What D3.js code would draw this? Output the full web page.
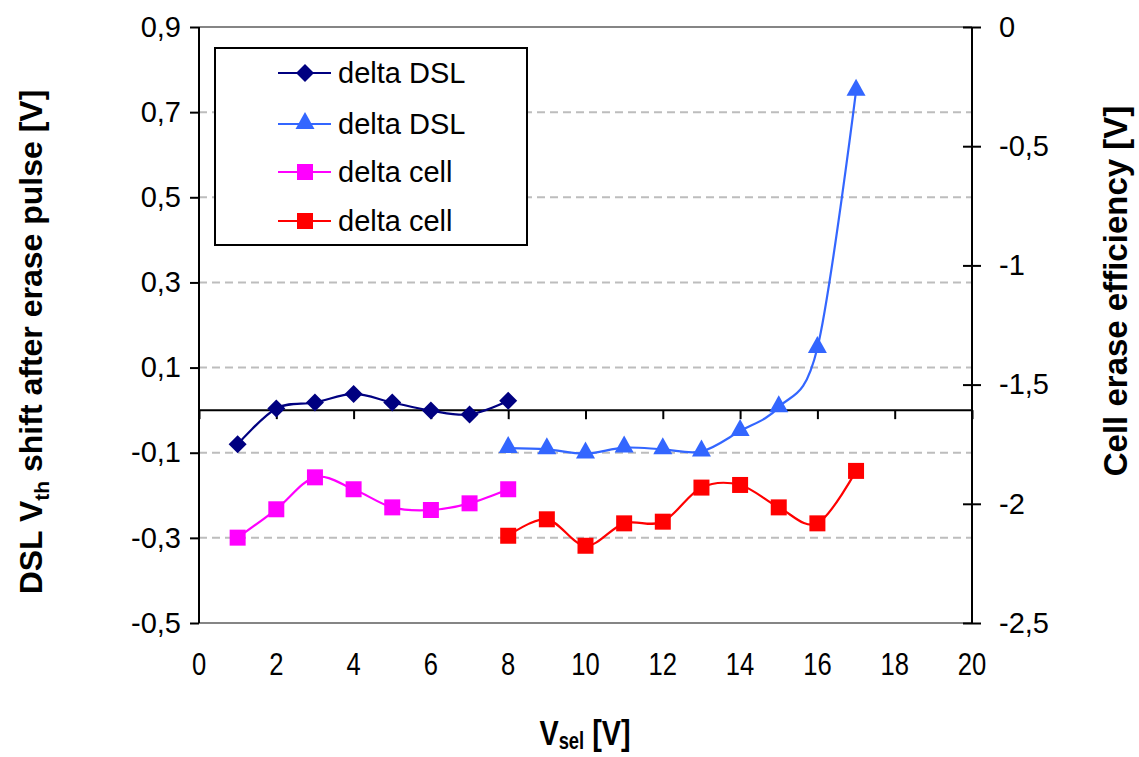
<!DOCTYPE html>
<html>
<head>
<meta charset="utf-8">
<script src="https://cdn.jsdelivr.net/npm/d3@7"></script>
<style>
  html, body { margin: 0; padding: 0; background: #fff; }
  svg { display: block; }
  text { font-family: Arial, "Liberation Sans", sans-serif; fill: #000; }
</style>
</head>
<body>
<svg id="chart" width="1139" height="757"></svg>
<script>
// Selection voltage for each pulse [V]
const vselLow  = [1, 2, 3, 4, 5, 6, 7, 8];
const vselHigh = [8, 9, 10, 11, 12, 13, 14, 15, 16, 17];

// DSL Vth shift after erase pulse [V] (left axis)
const dslLow  = [-0.080, 0.004, 0.018, 0.038, 0.018, -0.001, -0.010, 0.022];
const dslHigh = [-0.089, -0.092, -0.102, -0.088, -0.092, -0.097, -0.049, 0.007, 0.146, 0.750];

// Cell erase efficiency [V] (right axis)
const cellLow  = [-2.142, -2.023, -1.889, -1.939, -2.015, -2.026, -1.998, -1.939];
const cellHigh = [-2.134, -2.065, -2.176, -2.082, -2.075, -1.932, -1.921, -2.015, -2.082, -1.862];

// Axis ticks
const xTicks      = [0, 2, 4, 6, 8, 10, 12, 14, 16, 18, 20];
const leftTicks   = [0.9, 0.7, 0.5, 0.3, 0.1, -0.1, -0.3, -0.5];
const rightTicks  = [0, -0.5, -1, -1.5, -2, -2.5];
const legendNames = ["delta DSL", "delta DSL", "delta cell", "delta cell"];

const svg = d3.select("#chart");
const plot = { left: 199, right: 972, top: 27, bottom: 623 };

const x  = d3.scaleLinear().domain([0, 20]).range([plot.left, plot.right]);
const yL = d3.scaleLinear().domain([-0.5, 0.9]).range([plot.bottom, plot.top]);
const yR = d3.scaleLinear().domain([-2.5, 0]).range([plot.bottom, plot.top]);

const comma = v => String(v).replace(".", ",");
const narrow = 0.8; // horizontal squeeze for the condensed x-axis lettering

// dashed horizontal gridlines on the inner left-axis ticks
svg.append("g").selectAll("line")
  .data(leftTicks.filter(t => t < 0.85 && t > -0.45))
  .join("line")
  .attr("x1", plot.left).attr("x2", plot.right)
  .attr("y1", d => yL(d)).attr("y2", d => yL(d))
  .attr("stroke", "#bdbdbd").attr("stroke-width", 2)
  .attr("stroke-dasharray", "8,5");

// plot-area frame (top and bottom edges)
svg.append("line").attr("x1", plot.left).attr("x2", plot.right)
  .attr("y1", plot.top).attr("y2", plot.top)
  .attr("stroke", "#858585").attr("stroke-width", 2);
svg.append("line").attr("x1", plot.left).attr("x2", plot.right)
  .attr("y1", plot.bottom).attr("y2", plot.bottom)
  .attr("stroke", "#858585").attr("stroke-width", 2);

// left axis
const gL = svg.append("g").attr("transform", `translate(${plot.left},0)`)
  .call(d3.axisLeft(yL).tickValues(leftTicks).tickFormat(comma).tickSize(9).tickPadding(9));
gL.select(".domain").attr("stroke", "#000").attr("stroke-width", 2).attr("d", `M0,${plot.top}V${plot.bottom}`);
gL.selectAll(".tick line").attr("stroke", "#000").attr("stroke-width", 2);
gL.selectAll(".tick text").attr("font-size", 29).attr("font-family", "Arial, 'Liberation Sans', sans-serif");

// right axis (ticks cross the line)
const gR = svg.append("g").attr("transform", `translate(${plot.right},0)`)
  .call(d3.axisRight(yR).tickValues(rightTicks).tickFormat(comma).tickSize(9).tickPadding(18));
gR.select(".domain").attr("stroke", "#000").attr("stroke-width", 2).attr("d", `M0,${plot.top}V${plot.bottom}`);
gR.selectAll(".tick line").attr("stroke", "#000").attr("stroke-width", 2).attr("x1", -9);
gR.selectAll(".tick text").attr("font-size", 29).attr("font-family", "Arial, 'Liberation Sans', sans-serif");

// x axis drawn along zero of the left axis, labels below the plot area
const gX = svg.append("g").attr("transform", `translate(0,${yL(0)})`)
  .call(d3.axisBottom(x).tickValues(xTicks).tickSize(9).tickFormat(""));
gX.select(".domain").attr("stroke", "#000").attr("stroke-width", 2).attr("d", `M${plot.left},0H${plot.right}`);
gX.selectAll(".tick line").attr("stroke", "#000").attr("stroke-width", 2);

svg.append("g").selectAll("text").data(xTicks).join("text")
  .attr("transform", d => `translate(${x(d)},675) scale(${narrow},1)`)
  .attr("text-anchor", "middle")
  .attr("font-size", 32)
  .text(d => d);

// series
const curve = d3.curveCatmullRom.alpha(0);
const series = [
  { xs: vselLow,  ys: dslLow,   scale: yL, color: "#000080", shape: "diamond" },
  { xs: vselHigh, ys: dslHigh,  scale: yL, color: "#3366ff", shape: "triangle" },
  { xs: vselLow,  ys: cellLow,  scale: yR, color: "#ff00ff", shape: "square" },
  { xs: vselHigh, ys: cellHigh, scale: yR, color: "#ff0000", shape: "square" }
];

function markerPath(shape) {
  if (shape === "diamond") return "M0,-9L9,0L0,9L-9,0Z";
  if (shape === "triangle") return "M0,-11L9.5,6L-9.5,6Z";
  return "M-8,-8H8V8H-8Z";
}

series.forEach(s => {
  const pts = s.xs.map((v, i) => [x(v), s.scale(s.ys[i])]);
  svg.append("path")
    .attr("d", d3.line().curve(curve)(pts))
    .attr("fill", "none").attr("stroke", s.color).attr("stroke-width", 2.2);
  svg.append("g").selectAll("path").data(pts).join("path")
    .attr("transform", d => `translate(${d[0]},${d[1] + (s.shape === "triangle" ? -1 : 0)})`)
    .attr("d", markerPath(s.shape))
    .attr("fill", s.color);
});

// legend
const lg = svg.append("g");
lg.append("rect").attr("x", 215).attr("y", 48).attr("width", 312).attr("height", 197)
  .attr("fill", "#fff").attr("stroke", "#000").attr("stroke-width", 2);
const legY = [73, 124, 172, 221];
series.forEach((s, i) => {
  lg.append("line").attr("x1", 278).attr("x2", 331)
    .attr("y1", legY[i]).attr("y2", legY[i])
    .attr("stroke", s.color).attr("stroke-width", 2.2);
  lg.append("path").attr("transform", `translate(305,${legY[i] + (s.shape === "triangle" ? -1 : 0)})`)
    .attr("d", markerPath(s.shape)).attr("fill", s.color);
  lg.append("text").attr("x", 338).attr("y", legY[i] + 10)
    .attr("font-size", 29).text(legendNames[i]);
});

// axis titles
const lt = svg.append("text")
  .attr("transform", "translate(42,342) rotate(-90)")
  .attr("text-anchor", "middle").attr("font-weight", "bold").attr("font-size", 32);
lt.append("tspan").text("DSL V");
lt.append("tspan").attr("font-size", 21).attr("dy", 7).text("th");
lt.append("tspan").attr("dy", -7).text(" shift  after erase pulse [V]");

svg.append("text")
  .attr("transform", "translate(1127,291) rotate(-90)")
  .attr("text-anchor", "middle").attr("font-weight", "bold").attr("font-size", 33)
  .text("Cell erase efficiency [V]");

const xt = svg.append("text")
  .attr("transform", `translate(585,745) scale(${narrow},1)`)
  .attr("text-anchor", "middle").attr("font-weight", "bold").attr("font-size", 36);
xt.append("tspan").text("V");
xt.append("tspan").attr("font-size", 23).attr("dy", 4).text("sel");
xt.append("tspan").attr("dy", -4).text(" [V]");
</script>
</body>
</html>
